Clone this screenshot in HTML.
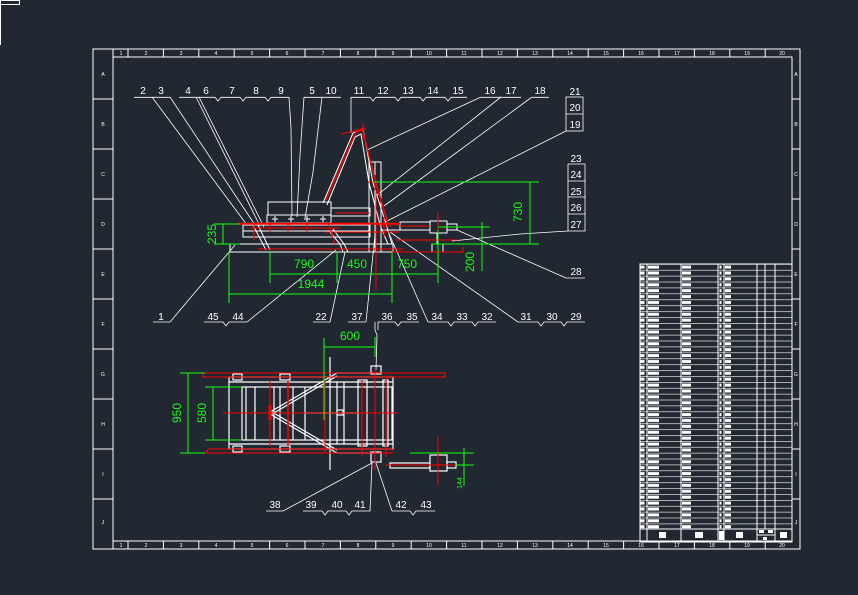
<!DOCTYPE html>
<html><head><meta charset="utf-8"><style>
html,body{margin:0;padding:0;background:#222831;}
svg{display:block}
text{font-family:"Liberation Sans",sans-serif;}
</style></head><body>
<svg width="858" height="595" viewBox="0 0 858 595" xmlns="http://www.w3.org/2000/svg">
<defs>
<pattern id="rows" x="639" y="264" width="160" height="5.9" patternUnits="userSpaceOnUse">
<line x1="0" y1="0.3" x2="160" y2="0.3" stroke="#fff" stroke-width="0.7"/>
<rect x="1.5" y="1.6" width="4" height="3" fill="#fff"/>
<rect x="9" y="1.6" width="11" height="3" fill="#fff"/>
<rect x="43" y="1.6" width="9" height="3" fill="#fff"/>
<rect x="80.5" y="1.6" width="2" height="3" fill="#fff"/>
<rect x="86" y="1.6" width="6" height="3" fill="#fff"/>
</pattern>
</defs>
<rect width="858" height="595" fill="#222831"/>
<!-- corner mark -->
<g stroke="#fff" stroke-width="1" fill="none">
<rect x="0.5" y="0.5" width="19" height="4"/>
<line x1="0.5" y1="0" x2="0.5" y2="45"/>
</g>
<!-- border -->
<g stroke="#fff" stroke-width="1" fill="none">
<rect x="93" y="49" width="707" height="500"/>
<rect x="113" y="57" width="679" height="484"/>
<line x1="113" y1="49" x2="113" y2="57"/><line x1="113" y1="541" x2="113" y2="549"/>
<line x1="93" y1="99" x2="113" y2="99"/><line x1="93" y1="149" x2="113" y2="149"/><line x1="93" y1="199" x2="113" y2="199"/><line x1="93" y1="249" x2="113" y2="249"/><line x1="93" y1="299" x2="113" y2="299"/><line x1="93" y1="349" x2="113" y2="349"/><line x1="93" y1="399" x2="113" y2="399"/><line x1="93" y1="449" x2="113" y2="449"/><line x1="93" y1="499" x2="113" y2="499"/>
<line x1="792" y1="99" x2="800" y2="99"/><line x1="792" y1="149" x2="800" y2="149"/><line x1="792" y1="199" x2="800" y2="199"/><line x1="792" y1="249" x2="800" y2="249"/><line x1="792" y1="299" x2="800" y2="299"/><line x1="792" y1="349" x2="800" y2="349"/><line x1="792" y1="399" x2="800" y2="399"/><line x1="792" y1="449" x2="800" y2="449"/><line x1="792" y1="499" x2="800" y2="499"/>
</g>
<g stroke="#fff" stroke-width="1">
<line x1="128" y1="49" x2="128" y2="57"/><line x1="163.4" y1="49" x2="163.4" y2="57"/><line x1="198.8" y1="49" x2="198.8" y2="57"/><line x1="234.2" y1="49" x2="234.2" y2="57"/><line x1="269.6" y1="49" x2="269.6" y2="57"/><line x1="305" y1="49" x2="305" y2="57"/><line x1="340.4" y1="49" x2="340.4" y2="57"/><line x1="375.8" y1="49" x2="375.8" y2="57"/><line x1="411.2" y1="49" x2="411.2" y2="57"/><line x1="446.6" y1="49" x2="446.6" y2="57"/><line x1="482" y1="49" x2="482" y2="57"/><line x1="517.4" y1="49" x2="517.4" y2="57"/><line x1="552.8" y1="49" x2="552.8" y2="57"/><line x1="588.2" y1="49" x2="588.2" y2="57"/><line x1="623.6" y1="49" x2="623.6" y2="57"/><line x1="659" y1="49" x2="659" y2="57"/><line x1="694.4" y1="49" x2="694.4" y2="57"/><line x1="729.8" y1="49" x2="729.8" y2="57"/><line x1="765.2" y1="49" x2="765.2" y2="57"/>
<line x1="128" y1="541" x2="128" y2="549"/><line x1="163.4" y1="541" x2="163.4" y2="549"/><line x1="198.8" y1="541" x2="198.8" y2="549"/><line x1="234.2" y1="541" x2="234.2" y2="549"/><line x1="269.6" y1="541" x2="269.6" y2="549"/><line x1="305" y1="541" x2="305" y2="549"/><line x1="340.4" y1="541" x2="340.4" y2="549"/><line x1="375.8" y1="541" x2="375.8" y2="549"/><line x1="411.2" y1="541" x2="411.2" y2="549"/><line x1="446.6" y1="541" x2="446.6" y2="549"/><line x1="482" y1="541" x2="482" y2="549"/><line x1="517.4" y1="541" x2="517.4" y2="549"/><line x1="552.8" y1="541" x2="552.8" y2="549"/><line x1="588.2" y1="541" x2="588.2" y2="549"/><line x1="623.6" y1="541" x2="623.6" y2="549"/><line x1="659" y1="541" x2="659" y2="549"/><line x1="694.4" y1="541" x2="694.4" y2="549"/><line x1="729.8" y1="541" x2="729.8" y2="549"/><line x1="765.2" y1="541" x2="765.2" y2="549"/>
</g>
<g fill="#fff" font-size="5" text-anchor="middle">
<text x="121" y="55">1</text><text x="146" y="55">2</text><text x="181" y="55">3</text><text x="216" y="55">4</text><text x="252" y="55">5</text><text x="287" y="55">6</text><text x="323" y="55">7</text><text x="358" y="55">8</text><text x="393" y="55">9</text><text x="429" y="55">10</text><text x="464" y="55">11</text><text x="500" y="55">12</text><text x="535" y="55">13</text><text x="570" y="55">14</text><text x="606" y="55">15</text><text x="641" y="55">16</text><text x="677" y="55">17</text><text x="712" y="55">18</text><text x="747" y="55">19</text><text x="782" y="55">20</text>
<text x="121" y="547">1</text><text x="146" y="547">2</text><text x="181" y="547">3</text><text x="216" y="547">4</text><text x="252" y="547">5</text><text x="287" y="547">6</text><text x="323" y="547">7</text><text x="358" y="547">8</text><text x="393" y="547">9</text><text x="429" y="547">10</text><text x="464" y="547">11</text><text x="500" y="547">12</text><text x="535" y="547">13</text><text x="570" y="547">14</text><text x="606" y="547">15</text><text x="641" y="547">16</text><text x="677" y="547">17</text><text x="712" y="547">18</text><text x="747" y="547">19</text><text x="782" y="547">20</text>
<text x="103" y="76">A</text><text x="103" y="126">B</text><text x="103" y="176">C</text><text x="103" y="226">D</text><text x="103" y="276">E</text><text x="103" y="326">F</text><text x="103" y="376">G</text><text x="103" y="426">H</text><text x="103" y="476">I</text><text x="103" y="524">J</text>
<text x="796" y="76">A</text><text x="796" y="126">B</text><text x="796" y="176">C</text><text x="796" y="226">D</text><text x="796" y="276">E</text><text x="796" y="326">F</text><text x="796" y="376">G</text><text x="796" y="426">H</text><text x="796" y="476">I</text><text x="796" y="524">J</text>
</g>

<!-- ===== SIDE VIEW ===== -->
<!-- label leaders top -->
<g stroke="#fff" stroke-width="0.8" fill="none">
<polyline points="134,97.3 170,97.3"/>
<polyline points="179,97.3 215,97.3 218,101 221,97.3 240,97.3 243,101 246,97.3 265,97.3 268,101 271,97.3 289,97.3"/>
<polyline points="304,97.3 341,97.3"/>
<polyline points="351,97.3 370,97.3 373,101 376,97.3 395,97.3 398,101 401,97.3 420,97.3 423,101 426,97.3 445,97.3 448,101 451,97.3 467,97.3"/>
<polyline points="481,97.3 521,97.3"/><polyline points="532,97.3 549,97.3"/>
<rect x="566" y="97" width="17" height="34"/><line x1="566" y1="114" x2="583" y2="114"/>
<polyline points="568,164 585,164 585,231 568,231 568,164"/>
<line x1="568" y1="181" x2="585" y2="181"/><line x1="568" y1="197" x2="585" y2="197"/><line x1="568" y1="214" x2="585" y2="214"/>
<line x1="566" y1="278" x2="585" y2="278"/>
<!-- leaders -->
<line x1="152" y1="97" x2="247" y2="225"/>
<line x1="170" y1="97" x2="255" y2="225"/>
<line x1="196" y1="97" x2="260" y2="226"/>
<line x1="199" y1="97" x2="264" y2="227"/>
<line x1="289" y1="97" x2="291" y2="128"/><line x1="291" y1="128" x2="292" y2="216"/>
<line x1="304" y1="97" x2="300" y2="155"/><line x1="300" y1="155" x2="297" y2="217"/>
<line x1="322" y1="97" x2="313" y2="172"/><line x1="313" y1="172" x2="305" y2="218"/>
<line x1="351" y1="97" x2="351" y2="133"/>
<line x1="481" y1="97" x2="367" y2="150"/>
<line x1="501" y1="97" x2="376" y2="196"/>
<line x1="532" y1="97" x2="384" y2="206"/>
<line x1="566" y1="131" x2="385" y2="222"/>
<line x1="568" y1="231" x2="520" y2="234"/><line x1="520" y1="234" x2="452" y2="241"/>
<line x1="566" y1="278" x2="457" y2="230"/>
<!-- bottom leaders -->
<line x1="153" y1="322" x2="170" y2="322"/><line x1="170" y1="322" x2="235" y2="245"/>
<polyline points="204,322 223,322 226,326 229,322 247,322"/><line x1="247" y1="322" x2="336" y2="250"/>
<polyline points="313,322 330,322"/><line x1="330" y1="322" x2="345" y2="252"/>
<polyline points="348,322 366,322"/><line x1="366" y1="322" x2="375" y2="235"/>
<polyline points="378,330 378,322 395,322 398,326 401,322 419,322"/>
<polyline points="428,322 448,322 451,326 454,322 472,322 475,326 478,322 496,322"/><line x1="428" y1="322" x2="387" y2="229"/>
<polyline points="518,322 538,322 541,326 544,322 561,322 564,326 567,322 585,322"/><line x1="518" y1="322" x2="390" y2="232"/>
</g>
<g fill="#fff" font-size="10" text-anchor="middle">
<text x="143" y="94">2</text><text x="161" y="94">3</text><text x="188" y="94">4</text><text x="206" y="94">6</text><text x="232" y="94">7</text><text x="256" y="94">8</text><text x="281" y="94">9</text><text x="312" y="94">5</text><text x="331" y="94">10</text><text x="359" y="94">11</text><text x="383" y="94">12</text><text x="408" y="94">13</text><text x="433" y="94">14</text><text x="458" y="94">15</text><text x="490" y="94">16</text><text x="511" y="94">17</text><text x="540" y="94">18</text>
<text x="575" y="95">21</text><text x="575" y="111">20</text><text x="575" y="128">19</text>
<text x="576" y="162">23</text><text x="576" y="178">24</text><text x="576" y="195">25</text><text x="576" y="211">26</text><text x="576" y="228">27</text><text x="576" y="275">28</text>
<text x="161" y="320">1</text><text x="213" y="320">45</text><text x="238" y="320">44</text><text x="321" y="320">22</text><text x="357" y="320">37</text><text x="387" y="320">36</text><text x="412" y="320">35</text><text x="437" y="320">34</text><text x="462" y="320">33</text><text x="487" y="320">32</text><text x="526" y="320">31</text><text x="552" y="320">30</text><text x="576" y="320">29</text>
</g>
<!-- structure white -->
<g stroke="#fff" stroke-width="1" fill="none">
<rect x="268" y="202" width="63" height="13"/>
<rect x="267" y="215" width="64" height="8"/>
<rect x="331" y="208" width="39" height="8"/>
<rect x="243" y="225" width="127" height="12"/>
<line x1="243" y1="231" x2="370" y2="231"/>
<rect x="230" y="244" width="163" height="8"/>
<rect x="369" y="162" width="12" height="90"/>
<line x1="375" y1="162" x2="375" y2="252"/>
<polyline points="323,203 353,133 363,129 373,183 387,227 392,244"/>
<polyline points="327,205 355,137 361,134 369,183 381,228 388,244"/>
<polyline points="253,225 266,250"/><polyline points="258,225 270,250"/>
<polyline points="329,231 340,244 343,252"/><polyline points="333,229 344,244 348,252"/>
<rect x="400" y="222" width="30" height="8"/>
<rect x="430" y="221" width="17" height="12"/>
<rect x="447" y="224" width="10" height="6"/>
<rect x="432" y="244" width="11" height="8"/>
<line x1="437" y1="233" x2="437" y2="244"/>
<line x1="381" y1="230" x2="400" y2="230"/>
</g>
<g stroke="#fff" stroke-width="1">
<line x1="272" y1="219" x2="278" y2="219"/><line x1="275" y1="216" x2="275" y2="222"/>
<line x1="288" y1="219" x2="294" y2="219"/><line x1="291" y1="216" x2="291" y2="222"/>
<line x1="304" y1="219" x2="310" y2="219"/><line x1="307" y1="216" x2="307" y2="222"/>
<line x1="320" y1="219" x2="326" y2="219"/><line x1="323" y1="216" x2="323" y2="222"/>
</g>
<!-- red -->
<g stroke="#f00" stroke-width="1" fill="none">
<line x1="238" y1="223.7" x2="400" y2="223.7" stroke-width="2"/>
<line x1="250" y1="228" x2="330" y2="228"/>
<line x1="326" y1="200" x2="356" y2="132" stroke-width="1.5"/>
<line x1="356" y1="132" x2="364" y2="129" stroke-width="1.5"/>
<line x1="362" y1="128" x2="376" y2="183" stroke-width="1.5"/>
<line x1="376" y1="183" x2="388" y2="224" stroke-width="1.5"/>
<line x1="363" y1="123" x2="363" y2="138"/><line x1="342" y1="134" x2="366" y2="128"/>
<line x1="368" y1="182" x2="383" y2="182"/><line x1="375" y1="175" x2="375" y2="190"/>
<line x1="335" y1="213" x2="370" y2="213"/>
<line x1="325" y1="232" x2="400" y2="232"/>
<line x1="258" y1="249" x2="403" y2="249"/>
<line x1="392" y1="252" x2="463" y2="252"/><line x1="463" y1="247" x2="463" y2="252"/>
<line x1="400" y1="226" x2="430" y2="226"/>
<line x1="438" y1="213" x2="438" y2="250"/>
<line x1="254" y1="223" x2="254" y2="240"/><line x1="270" y1="222" x2="270" y2="232"/>
<line x1="288" y1="222" x2="288" y2="232"/><line x1="307" y1="222" x2="307" y2="232"/>
<line x1="325" y1="228" x2="340" y2="228"/><line x1="328" y1="222" x2="335" y2="244"/>
<line x1="384" y1="217" x2="384" y2="237"/><line x1="379" y1="226" x2="392" y2="226"/>
<line x1="396" y1="240" x2="457" y2="240"/>
</g>
<!-- green dims side -->
<g stroke="#1f1" stroke-width="1" fill="none">
<line x1="214" y1="224" x2="240" y2="224"/><line x1="214" y1="244" x2="240" y2="244"/><line x1="223" y1="224" x2="223" y2="244"/>
<line x1="373" y1="182" x2="539" y2="182"/><line x1="432" y1="244" x2="539" y2="244"/><line x1="530" y1="182" x2="530" y2="244"/>
<line x1="438" y1="227" x2="490" y2="227"/><line x1="482" y1="222" x2="482" y2="271"/>
<line x1="270" y1="274" x2="438" y2="274"/>
<line x1="270" y1="252" x2="270" y2="283"/><line x1="337" y1="252" x2="337" y2="283"/><line x1="392" y1="252" x2="392" y2="283"/><line x1="438" y1="230" x2="438" y2="283"/>
<line x1="229" y1="294" x2="392" y2="294"/><line x1="229" y1="252" x2="229" y2="303"/><line x1="392" y1="283" x2="392" y2="303"/>
</g>
<line x1="376" y1="190" x2="376" y2="290" stroke="#f00" stroke-width="1"/>
<g fill="#1f1" font-size="12" text-anchor="middle">
<text x="304" y="268">790</text><text x="357" y="268">450</text><text x="407" y="268">750</text><text x="311" y="288">1944</text>
<text transform="translate(216,234) rotate(-90)">235</text>
<text transform="translate(522,212) rotate(-90)">730</text>
<text transform="translate(474,262) rotate(-90)">200</text>
</g>

<!-- ===== PLAN VIEW ===== -->
<g stroke="#fff" stroke-width="0.8" fill="none">
<polyline points="375,322 375,330 377,335 376,370"/>
<polyline points="266,511 283,511 372,463"/>
<polyline points="303,511 322,511 325,515 328,511 346,511 349,515 352,511 370,511 372,463"/>
<polyline points="392,511 410,511 413,515 416,511 435,511"/><line x1="392" y1="511" x2="376" y2="463"/>
</g>
<g fill="#fff" font-size="10" text-anchor="middle">
<text x="275" y="508">38</text><text x="311" y="508">39</text><text x="337" y="508">40</text><text x="360" y="508">41</text><text x="401" y="508">42</text><text x="426" y="508">43</text>
</g>
<g stroke="#fff" stroke-width="1.2" fill="none">
<rect x="229" y="377" width="164" height="72"/>
<rect x="242" y="387" width="150" height="53"/>
<line x1="229" y1="382" x2="393" y2="382"/><line x1="229" y1="444" x2="393" y2="444"/>
<rect x="233" y="374" width="9" height="6"/><rect x="280" y="374" width="10" height="6"/>
<rect x="233" y="446" width="9" height="6"/><rect x="280" y="446" width="10" height="6"/>
<line x1="246" y1="387" x2="246" y2="440"/><line x1="255" y1="387" x2="255" y2="440"/>
<line x1="274" y1="387" x2="274" y2="440"/><line x1="280" y1="387" x2="280" y2="440"/>
<line x1="293" y1="387" x2="293" y2="440"/><line x1="305" y1="387" x2="305" y2="440"/>
<line x1="337" y1="382" x2="337" y2="444"/><line x1="344" y1="382" x2="344" y2="444"/>
<rect x="358" y="380" width="9" height="66"/>
<rect x="383" y="380" width="5" height="66"/>
<line x1="270" y1="412" x2="337" y2="373"/><line x1="272" y1="414" x2="337" y2="376"/>
<line x1="270" y1="414" x2="337" y2="453"/><line x1="272" y1="412" x2="337" y2="450"/>
<line x1="337" y1="373" x2="380" y2="373"/><line x1="337" y1="453" x2="380" y2="453"/>
<line x1="330" y1="357" x2="330" y2="470"/>
<rect x="371" y="366" width="10" height="8"/><rect x="371" y="452" width="10" height="10"/>
<line x1="305" y1="413" x2="358" y2="413"/><rect x="337" y="410" width="6" height="5"/>
<rect x="390" y="463" width="40" height="5"/>
<rect x="430" y="455" width="17" height="16"/>
<rect x="447" y="462" width="9" height="6"/>
</g>
<g stroke="#f00" stroke-width="1" fill="none">
<rect x="203" y="373" width="242" height="4"/>
<polyline points="393,449 208,449 206,453 393,453"/>
<line x1="223" y1="413" x2="398" y2="413"/>
<line x1="270" y1="380" x2="270" y2="446"/>
<line x1="288" y1="381" x2="288" y2="446" stroke-width="1.5"/>
<line x1="270" y1="405" x2="270" y2="420" stroke-width="3"/>
<line x1="325" y1="380" x2="325" y2="452"/>
<line x1="362" y1="380" x2="362" y2="456"/>
<line x1="386" y1="375" x2="386" y2="457"/>
<line x1="375" y1="370" x2="375" y2="470"/>
<line x1="438" y1="437" x2="438" y2="485"/>
<line x1="385" y1="465" x2="460" y2="465"/>
</g>
<g stroke="#1f1" stroke-width="1" fill="none">
<line x1="180" y1="373" x2="205" y2="373"/><line x1="180" y1="453" x2="205" y2="453"/><line x1="188" y1="373" x2="188" y2="453"/>
<line x1="205" y1="387" x2="242" y2="387"/><line x1="205" y1="440" x2="242" y2="440"/><line x1="213" y1="387" x2="213" y2="440"/>
<line x1="324" y1="338" x2="324" y2="420"/><line x1="375" y1="337" x2="375" y2="357"/><line x1="324" y1="347" x2="375" y2="347"/>
<line x1="464" y1="448" x2="464" y2="486"/><line x1="410" y1="453" x2="474" y2="453"/><line x1="456" y1="465" x2="474" y2="465"/>
</g>
<g fill="#1f1" font-size="12" text-anchor="middle">
<text x="350" y="340">600</text>
<text transform="translate(181,413) rotate(-90)">950</text>
<text transform="translate(206,413) rotate(-90)">580</text>
<text transform="translate(462,483) rotate(-90)" font-size="7">144</text>
</g>

<!-- ===== TABLE ===== -->
<rect x="640" y="264" width="152" height="265" fill="url(#rows)"/>
<g stroke="#fff" stroke-width="1" fill="none">
<rect x="640" y="264" width="152" height="278"/>
<line x1="640" y1="529" x2="792" y2="529"/>
<line x1="647" y1="264" x2="647" y2="542"/>
<line x1="681" y1="264" x2="681" y2="542"/>
<line x1="718" y1="264" x2="718" y2="542"/>
<line x1="724" y1="264" x2="724" y2="542"/>
<line x1="757" y1="264" x2="757" y2="542"/>
<line x1="765" y1="264" x2="765" y2="529"/>
<line x1="775" y1="264" x2="775" y2="542"/>
<line x1="757" y1="535" x2="775" y2="535"/>
</g>
<g fill="#fff">
<rect x="659" y="532" width="7" height="6"/><rect x="695" y="532" width="8" height="6"/><rect x="736" y="532" width="7" height="6"/><rect x="780" y="532" width="7" height="6"/>
<rect x="719" y="531" width="5" height="9"/><rect x="759" y="530" width="5" height="3"/><rect x="768" y="530" width="5" height="3"/><rect x="763" y="537" width="4" height="3"/>
</g>
</svg>
</body></html>
